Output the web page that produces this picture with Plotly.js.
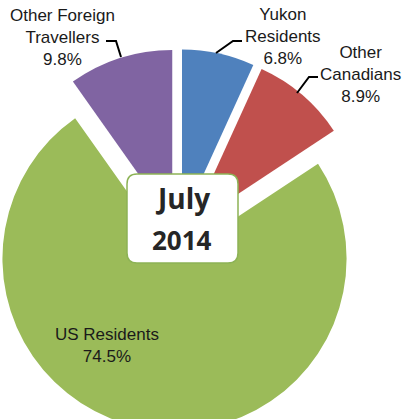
<!DOCTYPE html>
<html>
<head>
<meta charset="utf-8">
<script src="https://cdn.plot.ly/plotly-3.0.1.min.js"></script>
<style>
html,body{margin:0;padding:0;width:404px;height:419px;overflow:hidden;background:#fff;}
#chart{position:absolute;left:-13px;top:0;width:430px;height:480px;}
</style>
</head>
<body>
<div id="chart"></div>
<script>
// ---- data ----
const categories = ['Yukon Residents', 'Other Canadians', 'US Residents', 'Other Foreign Travellers'];
const shares = [6.8, 8.9, 74.5, 9.8];
const labelLines = ['Yukon<br>Residents', 'Other<br>Canadians', 'US Residents', 'Other Foreign<br>Travellers'];
const sliceColors = ['#4F81BD', '#C0504D', '#9BBB59', '#8064A2'];
const centerTitle = ['July', '2014'];

// ---- layout helpers (page pixels -> paper coords of the 382x382 plot area) ----
const OX = -13, OY = 49, S = 382;
const px = x => (x - OX) / S;
const py = y => (OY + S - y) / S;

const labelPos = [[283, 36], [360, 74], [107, 345], [62, 37]];
const annotations = categories.map((c, i) => ({
  xref: 'paper', yref: 'paper', x: px(labelPos[i][0]), y: py(labelPos[i][1]),
  xanchor: 'center', yanchor: 'middle', showarrow: false, align: 'center',
  text: labelLines[i] + '<br>' + shares[i].toFixed(1) + '%',
  font: {family: 'Liberation Sans, Arial, sans-serif', size: 17, color: '#1a1a1a'}
}));
annotations.push({
  xref: 'paper', yref: 'paper', x: px(182), y: py(198), xanchor: 'center', yanchor: 'middle',
  showarrow: false, text: '<b>' + centerTitle[0] + '</b>',
  font: {family: 'Open Sans, sans-serif', size: 28, color: '#262626'}
});
annotations.push({
  xref: 'paper', yref: 'paper', x: px(182), y: py(240), xanchor: 'center', yanchor: 'middle',
  showarrow: false, text: '<b>' + centerTitle[1] + '</b>',
  font: {family: 'Open Sans, sans-serif', size: 26, color: '#262626'}
});

function roundRect(x0, y0, x1, y1, r) {
  const X0 = px(x0), X1 = px(x1), Y0 = py(y0), Y1 = py(y1), R = r / S;
  return `M${X0 + R},${Y0} L${X1 - R},${Y0} Q${X1},${Y0} ${X1},${Y0 - R} L${X1},${Y1 + R} Q${X1},${Y1} ${X1 - R},${Y1} L${X0 + R},${Y1} Q${X0},${Y1} ${X0},${Y1 + R} L${X0},${Y0 - R} Q${X0},${Y0} ${X0 + R},${Y0} Z`;
}
function poly(pts) {
  return pts.map((p, i) => (i ? 'L' : 'M') + px(p[0]) + ',' + py(p[1])).join(' ');
}
const leaders = [
  [[242, 41], [233, 41], [216, 53]],
  [[318, 77], [309, 77], [297, 93]],
  [[106, 41], [116, 41], [121, 57]]
];
const shapes = leaders.map(l => ({
  type: 'path', xref: 'paper', yref: 'paper', path: poly(l),
  line: {color: '#000', width: 2}
}));
shapes.push({
  type: 'path', xref: 'paper', yref: 'paper', path: roundRect(127, 174, 238, 263, 10),
  fillcolor: '#ffffff', line: {color: '#8DB356', width: 1.5}
});

const trace = {
  type: 'pie',
  labels: categories,
  values: shares,
  sort: false,
  direction: 'clockwise',
  rotation: 0,
  pull: 0.11,
  textinfo: 'none',
  hoverinfo: 'label+percent',
  marker: {colors: sliceColors, line: {width: 0}},
  showlegend: false
};

Plotly.newPlot('chart', [trace], {
  width: 430, height: 480,
  margin: {l: 0, r: 48, t: 49, b: 49, pad: 0},
  paper_bgcolor: 'rgba(0,0,0,0)', plot_bgcolor: 'rgba(0,0,0,0)',
  showlegend: false,
  annotations: annotations,
  shapes: shapes
}, {displayModeBar: false, staticPlot: true});
</script>
</body>
</html>
